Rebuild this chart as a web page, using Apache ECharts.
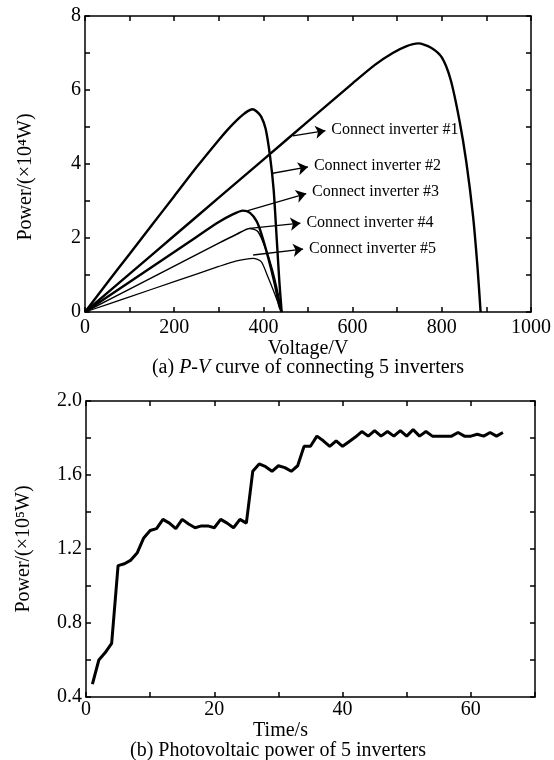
<!DOCTYPE html>
<html>
<head>
<meta charset="utf-8">
<script src="https://cdn.jsdelivr.net/npm/echarts@6/dist/echarts.min.js"></script>
<style>
	html, body { margin: 0; padding: 0; background: #fff; }
	#chart { width: 554px; height: 760px; }
</style>
</head>
<body>
<div id="chart"></div>
<script>
	// (a) P-V curves, voltage in V, power in 10^4 W
	var voltage1 = [0, 100, 200, 300, 400, 500, 600, 650, 690, 720, 747, 775, 800, 820, 840, 855, 870, 880, 887];
	var power1 = [0, 1.03, 2.06, 3.09, 4.12, 5.15, 6.18, 6.68, 7.0, 7.18, 7.26, 7.15, 6.88, 6.27, 5.15, 4.05, 2.6, 1.22, 0];
	var voltage2 = [0, 50, 100, 150, 200, 250, 300, 320, 340, 355, 365, 375, 385, 395, 405, 415, 423, 430, 436, 441];
	var power2 = [0, 0.79, 1.57, 2.35, 3.13, 3.91, 4.65, 4.93, 5.18, 5.34, 5.43, 5.48, 5.42, 5.28, 4.95, 4.2, 3.3, 1.95, 0.78, 0];
	var voltage3 = [0, 100, 200, 250, 300, 330, 354, 370, 385, 395, 410, 425, 436, 441];
	var power3 = [0, 0.81, 1.62, 2.03, 2.43, 2.63, 2.74, 2.68, 2.45, 2.13, 1.5, 0.78, 0.15, 0];
	var voltage4 = [0, 100, 200, 300, 340, 369, 388, 406, 420, 432, 441];
	var power4 = [0, 0.62, 1.24, 1.86, 2.1, 2.26, 2.17, 1.68, 1.15, 0.55, 0];
	var voltage5 = [0, 100, 200, 300, 340, 377, 395, 410, 425, 436, 441];
	var power5 = [0, 0.41, 0.82, 1.23, 1.38, 1.45, 1.36, 0.95, 0.5, 0.15, 0];
	var curveNames = ['Connect inverter #1', 'Connect inverter #2', 'Connect inverter #3', 'Connect inverter #4', 'Connect inverter #5'];
	// arrow tail / head for each label, [V, P]
	var arrowFrom = [[466, 4.76], [421, 3.75], [365, 2.74], [369, 2.26], [377, 1.54]];
	var arrowTo = [[539, 4.90], [500, 3.92], [496, 3.20], [483, 2.40], [489, 1.70]];

	// (b) photovoltaic power, time in s, power in 10^5 W
	var times = [1, 2, 3, 4, 5, 6, 7, 8, 9, 10, 11, 12, 13, 14, 15, 16, 17, 18, 19, 20, 21, 22, 23, 24, 25, 26, 27, 28, 29, 30, 31, 32, 33, 34, 35, 36, 37, 38, 39, 40, 41, 42, 43, 44, 45, 46, 47, 48, 49, 50, 51, 52, 53, 54, 55, 56, 57, 58, 59, 60, 61, 62, 63, 64, 65];
	var pvPower = [0.47, 0.60, 0.64, 0.69, 1.11, 1.12, 1.14, 1.18, 1.26, 1.30, 1.31, 1.36, 1.34, 1.31, 1.36, 1.335, 1.315, 1.325, 1.325, 1.315,
		1.36, 1.34, 1.315, 1.36, 1.34, 1.62, 1.66, 1.645, 1.62, 1.65, 1.64, 1.62, 1.65, 1.755, 1.755, 1.81, 1.785, 1.755, 1.785, 1.755,
		1.78, 1.805, 1.835, 1.81, 1.84, 1.81, 1.835, 1.81, 1.84, 1.81, 1.845, 1.81, 1.835, 1.81, 1.81, 1.81, 1.81, 1.83, 1.81, 1.81,
		1.82, 1.81, 1.83, 1.81, 1.83];

	var font = 'Liberation Serif';

	function zip(xs, ys) {
		var out = [];
		for (var i = 0; i < xs.length; i++) {
			out.push([xs[i], ys[i]]);
		}
		return out;
	}

	function valueAxis(opt) {
		var axis = {
			type: 'value',
			gridIndex: opt.grid,
			position: opt.position,
			min: opt.min,
			max: opt.max,
			interval: opt.interval,
			splitLine: { show: false },
			axisLine: { show: true, onZero: false, lineStyle: { color: '#000', width: 1.5 } },
			axisTick: { show: true, inside: true, length: 5, lineStyle: { color: '#000', width: 1.5 } },
			axisLabel: { show: false }
		};
		if (opt.labels) {
			axis.axisLabel = {
				show: true,
				color: '#000',
				fontFamily: font,
				fontSize: 20,
				margin: opt.margin,
				formatter: opt.labels
			};
		}
		if (opt.name) {
			axis.name = opt.name;
			axis.nameLocation = 'middle';
			axis.nameGap = opt.nameGap;
			axis.nameTextStyle = { color: '#000', fontFamily: font, fontSize: 20, padding: opt.namePadding || 0 };
		}
		return axis;
	}

	var pvData = [zip(voltage1, power1), zip(voltage2, power2), zip(voltage3, power3), zip(voltage4, power4), zip(voltage5, power5)];
	var widths = [2.4, 2.4, 2.4, 1.5, 1.3];

	var series = [];
	for (var k = 0; k < pvData.length; k++) {
		series.push({
			name: curveNames[k],
			type: 'line',
			xAxisIndex: 0,
			yAxisIndex: 0,
			data: pvData[k],
			showSymbol: false,
			smooth: 0.25,
			lineStyle: { color: '#000', width: widths[k] },
			silent: true,
			markLine: {
				silent: true,
				symbol: ['none', 'arrow'],
				symbolSize: 10,
				lineStyle: { color: '#000', width: 1.3, type: 'solid' },
				label: {
					show: true,
					position: 'end',
					distance: 6,
					color: '#000',
					fontFamily: font,
					fontSize: 16,
					formatter: curveNames[k]
				},
				data: [[{ coord: arrowFrom[k] }, { coord: arrowTo[k] }]]
			}
		});
	}
	series.push({
		name: 'PV power',
		type: 'line',
		xAxisIndex: 2,
		yAxisIndex: 2,
		data: zip(times, pvPower),
		showSymbol: false,
		lineStyle: { color: '#000', width: 3 },
		silent: true
	});

	var chart = echarts.init(document.getElementById('chart'));
	chart.setOption({
		backgroundColor: '#fff',
		animation: false,
		grid: [
			{ left: 85, top: 16, width: 447, height: 296 },
			{ left: 86, top: 401, width: 449, height: 296 }
		],
		xAxis: [
			valueAxis({ grid: 0, position: 'bottom', min: 0, max: 1000, interval: 100, margin: 6,
				labels: function(v) { return v % 200 === 0 ? String(v) : ''; },
				name: 'Voltage/V', nameGap: 24 }),
			valueAxis({ grid: 0, position: 'top', min: 0, max: 1000, interval: 100 }),
			valueAxis({ grid: 1, position: 'bottom', min: 0, max: 70, interval: 10, margin: 3,
				labels: function(v) { return v % 20 === 0 ? String(v) : ''; },
				name: 'Time/s', nameGap: 21, namePadding: [0, 60, 0, 0] }),
			valueAxis({ grid: 1, position: 'top', min: 0, max: 70, interval: 10 })
		],
		yAxis: [
			valueAxis({ grid: 0, position: 'left', min: 0, max: 8, interval: 1, margin: 4,
				labels: function(v) { return v % 2 === 0 ? String(v) : ''; },
				name: 'Power/(\u00d710\u2074W)', nameGap: 49, namePadding: [0, 26, 0, 0] }),
			valueAxis({ grid: 0, position: 'right', min: 0, max: 8, interval: 1 }),
			valueAxis({ grid: 1, position: 'left', min: 0.4, max: 2.0, interval: 0.2, margin: 4,
				labels: function(v) { return Math.round(v * 10) % 4 === 0 ? v.toFixed(1) : ''; },
				name: 'Power/(\u00d710\u2075W)', nameGap: 52 }),
			valueAxis({ grid: 1, position: 'right', min: 0.4, max: 2.0, interval: 0.2 })
		],
		graphic: [
			{
				type: 'text',
				x: 308,
				y: 368,
				style: {
					text: '(a) {i|P}-{i|V} curve of connecting 5 inverters',
					textAlign: 'center',
					textVerticalAlign: 'middle',
					verticalAlign: 'middle',
					font: '20px "Liberation Serif"',
					fill: '#000',
					rich: {
						i: { fontStyle: 'italic', fontSize: 20, fontFamily: font, fill: '#000' }
					}
				}
			},
			{
				type: 'text',
				x: 278,
				y: 751,
				style: {
					text: '(b) Photovoltaic power of 5 inverters',
					textAlign: 'center',
					textVerticalAlign: 'middle',
					verticalAlign: 'middle',
					font: '20px "Liberation Serif"',
					fill: '#000'
				}
			}
		],
		series: series
	});
</script>
</body>
</html>
